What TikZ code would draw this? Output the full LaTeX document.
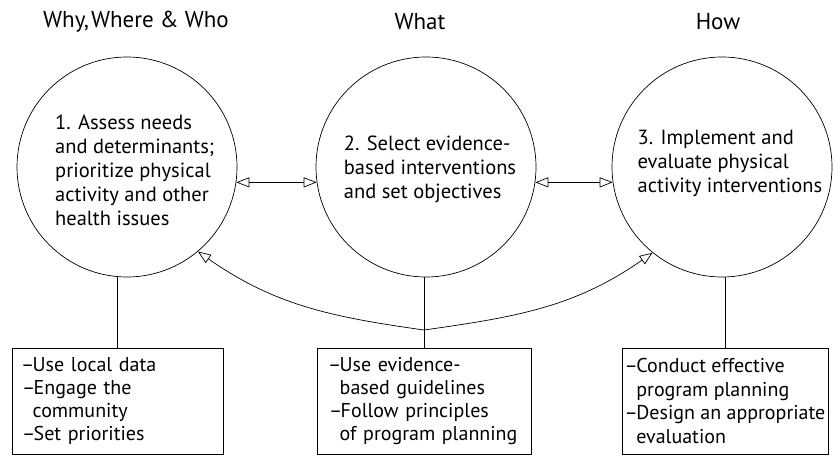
\documentclass[tikz,border=0pt]{standalone}
\usepackage{fontspec}
\setmainfont{PT Sans}
\usetikzlibrary{arrows.meta}

\newcommand\bdash{\kern-1pt–\kern-1.5pt}
\newcommand\bindent{\hphantom{\bdash}}

\tikzset{
  phase/.style={draw, circle, line width=0.7pt, minimum size=220pt, inner sep=0pt},
  phasetext/.style={font=\fontsize{20.5}{24}\selectfont, align=left, inner sep=0pt},
  heading/.style={font=\fontsize{23}{26}\selectfont, inner sep=0pt},
  notebox/.style={draw, line width=0.7pt, minimum height=106pt,
    align=left, font=\fontsize{20}{23.5}\selectfont},
  hollow/.style={-{Triangle[open, length=13pt, width=10pt]}, line width=0.7pt},
  twoway/.style={{Triangle[open, length=13pt, width=10pt]}-{Triangle[open, length=13pt, width=10pt]}, line width=0.7pt},
}

\begin{document}
\begin{tikzpicture}[x=1pt, y=1pt]
  \useasboundingbox (0, 0) rectangle (836, 456);

  % column headings
  \node[heading] (h1) at (136, 434) {Why,\kern2pt Where \& Who};
  \node[heading] (h2) at (420, 434) {What};
  \node[heading] (h3) at (718, 434) {How};

  % the three phases
  \node[phase] (c1) at (127, 289) {};
  \node[phase] (c2) at (426, 289) {};
  \node[phase] (c3) at (722, 289) {};

  \node[phasetext, anchor=west] (t1) at (55, 286)
    {1. Assess needs\\and determinants;\\prioritize physical\\activity and other\\health issues};
  \node[phasetext] (t2) at (430, 287)
    {2. Select evidence-\\based interventions\\and set objectives};
  \node[phasetext] (t3) at (730, 293)
    {3. Implement and\\evaluate physical\\activity interventions};

  \draw[twoway] (c1.-8) -- (c2.188);
  \draw[twoway] (c2.-8) -- (c3.188);

  % what each phase involves
  \node[notebox, inner xsep=10pt, text width=191pt] (b1) at (117.5, 55)
    {\bdash Use local data\\\bdash Engage the\\\bindent community\\\bdash Set priorities};
  \node[notebox, inner xsep=12pt, text width=190pt] (b2) at (424, 55)
    {\bdash Use evidence-\\\bindent based guidelines\\\bdash Follow principles\\\bindent of program planning};
  \node[notebox, inner xsep=3pt, minimum width=205pt] (b3) at (725.5, 55)
    {\bdash Conduct effective\\\bindent program planning\\\bdash Design an appropriate\\\bindent evaluation};

  \draw[line width=0.7pt] (b1.north) -- (b1.north |- c1.south);
  \draw[line width=0.7pt] (b2.north) -- (b2.north |- c2.south);
  \draw[line width=0.7pt] (b3.north) -- (b3.north |- c3.south);

  % feedback to planning and implementation
  \coordinate (join) at (424, 126);
  \draw[hollow] (join) to[out=172, in=-35] (c1.-50);
  \draw[hollow] (join) to[out=8, in=215] (c3.-129);
\end{tikzpicture}
\end{document}
